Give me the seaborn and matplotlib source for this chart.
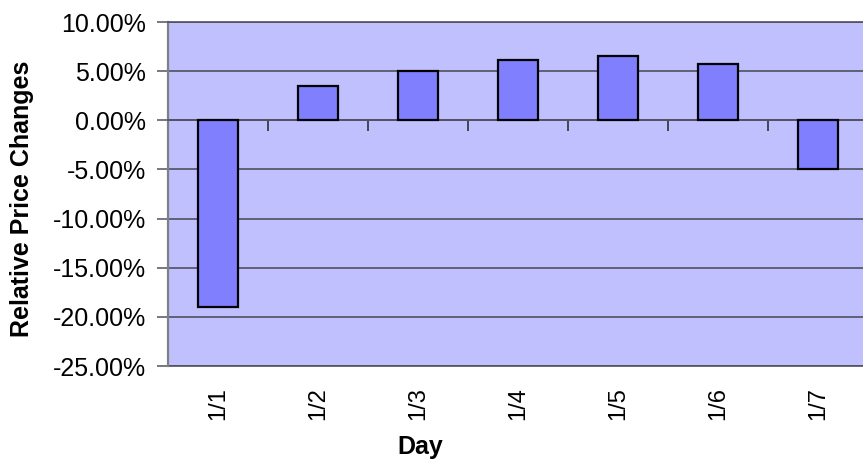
import matplotlib
matplotlib.use("Agg")
import matplotlib.pyplot as plt
import seaborn as sns
import pandas as pd
from matplotlib.ticker import FuncFormatter, FixedLocator

# Daily relative price changes (in percent)
days = ["1/1", "1/2", "1/3", "1/4", "1/5", "1/6", "1/7"]
changes = [-19.0, 3.5, 5.0, 6.15, 6.55, 5.75, -5.0]
y_ticks = [10, 5, 0, -5, -10, -15, -20, -25]

df = pd.DataFrame({"Day": days, "Change": changes})

sns.set_theme(style="white")
plt.rcParams["font.family"] = ["Liberation Sans", "DejaVu Sans"]
plt.rcParams["text.color"] = "black"
plt.rcParams["axes.labelcolor"] = "black"
plt.rcParams["xtick.color"] = "black"
plt.rcParams["ytick.color"] = "black"

W, H = 863, 463
fig = plt.figure(figsize=(W / 100, H / 100), dpi=100)
left, right, top, bottom = 168, 868, 22, 366
ax = fig.add_axes([left / W, 1 - bottom / H, (right - left) / W, (bottom - top) / H])
ax.set_facecolor("#C0C0FF")

sns.barplot(data=df, x="Day", y="Change", color="#8080FF", width=0.4,
            edgecolor="black", linewidth=1.6, saturation=1, ax=ax, zorder=3)

ax.set_ylim(-25, 10)
ax.set_xlim(-0.5, len(days) - 0.5)
ax.yaxis.set_major_locator(FixedLocator(y_ticks))
ax.yaxis.set_major_formatter(FuncFormatter(lambda v, _: f"{v:.2f}%"))
ax.grid(axis="y", color="#505060", linewidth=1.2, zorder=1)
ax.grid(axis="x", visible=False)

# Frame of the plot area
for side in ["left", "top", "right"]:
    ax.spines[side].set_visible(True)
    ax.spines[side].set_color("#505060")
    ax.spines[side].set_linewidth(1.2)
ax.spines["left"].set_color("#808080")
ax.spines["left"].set_linewidth(1.6)

# Category axis sits on the zero line with ticks between categories
ax.spines["bottom"].set_position(("data", 0))
ax.spines["bottom"].set_color("#505060")
ax.spines["bottom"].set_linewidth(1.2)
ax.set_xticks(range(len(days)))
ax.xaxis.set_minor_locator(FixedLocator([i - 0.5 for i in range(len(days) + 1)]))
ax.tick_params(axis="x", which="major", length=0, labelbottom=False)
ax.tick_params(axis="x", which="minor", length=8, width=1.2, color="#303030",
               direction="out", bottom=True)
ax.tick_params(axis="y", which="major", length=8, width=1.2, color="#606070",
               direction="out", left=True, pad=8, labelsize=18)

# Bottom frame line with the day labels
sec = ax.secondary_xaxis("bottom")
sec.set_xticks(range(len(days)))
sec.set_xticklabels(days, rotation=90, fontsize=17)
sec.tick_params(length=0, pad=15)
sec.spines["bottom"].set_color("#505060")
sec.spines["bottom"].set_linewidth(1.2)

ax.set_xlabel("Day", fontsize=18, fontweight="bold")
ax.xaxis.set_label_coords((420 - left) / (right - left), -(435 - bottom) / (bottom - top))

ax.set_ylabel("Relative Price Changes", fontsize=18, fontweight="bold")
ax.yaxis.set_label_coords((34 - left) / (right - left), (bottom - 199) / (bottom - top))

fig.savefig("out.png", dpi=100)
